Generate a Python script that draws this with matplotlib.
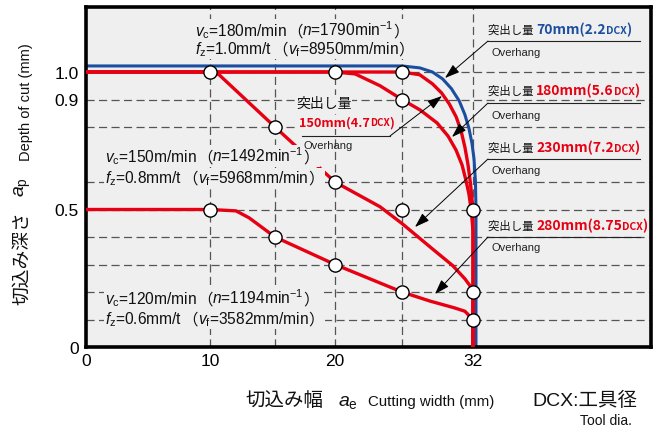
import numpy as np
import matplotlib
matplotlib.use('Agg')
import matplotlib.pyplot as plt
from matplotlib.offsetbox import TextArea, HPacker, AnnotationBbox
from matplotlib.lines import Line2D

plt.rcParams['font.family'] = ['Liberation Sans', 'Noto Sans CJK JP']
plt.rcParams['mathtext.fontset'] = 'custom'
plt.rcParams['mathtext.rm'] = 'Liberation Sans'
plt.rcParams['mathtext.it'] = 'Liberation Sans:italic'
plt.rcParams['mathtext.bf'] = 'Liberation Sans:bold'

# ---------------- data ----------------
x_ticks = [0, 10, 20, 32]
x_tick_labels = ['0', '10', '20', '32']
y_ticks = [0, 0.5, 0.9, 1.0]
y_tick_labels = ['0', '0.5', '0.9', '1.0']
x_grid = [10, 15, 20, 25, 32]
y_grid = [0.1, 0.2, 0.3, 0.4, 0.5, 0.6, 0.8, 0.9, 1.0]

# overhang 70 mm (blue)
oh70_x = [0, 25, 26.75, 28.0, 29.0, 29.86, 30.64, 31.2, 31.6, 31.9, 32.1, 32.25, 32.3, 32.3]
oh70_y = [1.022, 1.022, 1.015, 1.0, 0.975, 0.94, 0.895, 0.845, 0.795, 0.74, 0.685, 0.6, 0.5, 0]
# overhang 150 mm
oh150_x = [0, 25, 26.75, 28.0, 28.9, 29.66, 30.35, 30.83, 31.2, 31.5, 31.75, 31.95, 32, 32]
oh150_y = [1.0, 1.0, 0.99, 0.957, 0.924, 0.884, 0.836, 0.785, 0.727, 0.665, 0.595, 0.52, 0.45, 0]
# overhang 180 mm
oh180_x = [0, 20, 21.5, 23.36, 25, 26.78, 28.45, 29.54, 30.33, 30.92, 31.3, 31.6, 31.85, 32, 32]
oh180_y = [1.0, 1.0, 0.993, 0.95, 0.9, 0.862, 0.815, 0.767, 0.716, 0.662, 0.607, 0.556, 0.49, 0.42, 0]
# overhang 230 mm
oh230_x = [0, 10, 10.7, 15, 20, 23.36, 25, 27.96, 30.0, 31.2, 31.7, 32, 32]
oh230_y = [1.0, 1.0, 0.99, 0.8, 0.6, 0.51, 0.449, 0.358, 0.296, 0.248, 0.223, 0.2, 0]
# overhang 280 mm
oh280_x = [0, 10, 12.0, 13.0, 14.0, 15, 20, 25, 27.76, 30.2, 31.2, 32, 32]
oh280_y = [0.5, 0.5, 0.495, 0.47, 0.435, 0.4, 0.3, 0.2, 0.167, 0.142, 0.13, 0.1, 0]

# measured points (circles)
pt_x = [10, 20, 25, 25, 15, 20, 10, 25, 32, 15, 20, 25, 32, 32]
pt_y = [1.0, 1.0, 1.0, 0.9, 0.8, 0.6, 0.5, 0.5, 0.5, 0.4, 0.3, 0.2, 0.2, 0.1]

# cutting conditions
vc_vals = ['180', '150', '120']
n_vals = ['1790', '1492', '1194']
fz_vals = ['1.0', '0.8', '0.6']
vf_vals = ['8950', '5968', '3582']

# overhang labels
oh_lengths = ['70', '180', '230', '280', '150']
oh_ratios = ['2.2', '5.6', '7.2', '8.75', '4.7']

# schematic (non-uniform) x axis breakpoints: value -> relative position
scale_vals = [0, 10, 15, 20, 25, 32, 50]
scale_pos = [0, 124, 189, 249, 316, 387, 565]

RED = '#E60012'
BLUE = '#1B4EA0'
BG = '#EFEFEF'
INK = '#111111'

W, H = 656, 427
fig = plt.figure(figsize=(W / 100, H / 100), dpi=100)
ax = fig.add_axes([86 / W, (H - 348) / H, (651 - 86) / W, (348 - 8) / H])
ax.set_facecolor(BG)

fwd = lambda v: np.interp(v, scale_vals, scale_pos)
inv = lambda p: np.interp(p, scale_pos, scale_vals)
ax.set_xscale('function', functions=(fwd, inv))
ax.set_xlim(0, 50)
ax.set_ylim(0, 340 / 275)

for gx in x_grid:
    ax.axvline(gx, color='#555555', lw=0.9, ls=(0, (6.5, 3.5)), zorder=1)
for gy in y_grid:
    ax.axhline(gy, color='#555555', lw=0.9, ls=(0, (6.5, 3.5)), zorder=1)

ax.plot(oh70_x, oh70_y, color=BLUE, lw=2.2, zorder=2.5, solid_joinstyle='round')
for cx, cy in [(oh150_x, oh150_y), (oh180_x, oh180_y), (oh230_x, oh230_y), (oh280_x, oh280_y)]:
    ax.plot(cx, cy, color=RED, lw=2.4, zorder=3, solid_joinstyle='round')
ax.plot(pt_x, pt_y, ls='none', marker='o', ms=9.5, mfc='white', mec='black', mew=1.0, zorder=5)

ax.set_xticks(x_ticks)
ax.set_xticklabels(x_tick_labels, fontsize=12.5)
ax.set_yticks(y_ticks)
ax.set_yticklabels(y_tick_labels, fontsize=12.5)
ax.tick_params(axis='both', length=0)
ax.tick_params(axis='x', pad=4)
ax.tick_params(axis='y', pad=5)
ax.xaxis.set_minor_locator(matplotlib.ticker.NullLocator())
for s in ax.spines.values():
    s.set_linewidth(2.6)
    s.set_color('black')

CJK = ['Noto Sans CJK JP']


def fpx(px, py):
    return (px, H - py)


def packed(children, px, py, zorder=6, bg=True):
    box = HPacker(children=children, align='baseline', pad=0, sep=0)
    ab = AnnotationBbox(box, (px, H - py), xycoords='figure pixels', box_alignment=(0, 0.5),
                        frameon=bg, pad=0.05, bboxprops=dict(fc=BG, ec='none'), zorder=zorder)
    fig.add_artist(ab)


def latin(t, size, **kw):
    return TextArea(t, textprops=dict(fontsize=size, color=INK, **kw))


def cjk(t, size, **kw):
    kw.setdefault('color', INK)
    return TextArea(t, textprops=dict(fontsize=size, family=CJK, **kw))


# cutting condition texts
cond_pos = [(195, 31, 50), (105, 157, 179), (105, 299, 320)]
CS = 11.2
for (px, py1, py2), vc, n, fz, vf in zip(cond_pos, vc_vals, n_vals, fz_vals, vf_vals):
    packed([latin(r'$v_{\mathrm{c}}$=' + vc + 'm/min', CS), cjk('（', CS),
            latin(r'$n$=' + n + r'min$^{\mathrm{-1}}$', CS), cjk('）', CS)], px, py1)
    packed([latin(r'$f_{\mathrm{z}}$=' + fz + 'mm/t', CS), cjk('（', CS),
            latin(r'$v_{\mathrm{f}}$=' + vf + 'mm/min', CS), cjk('）', CS)], px, py2)


def overhang_label(px, py, length, ratio, color, kana=8.2, big=10, small=7.5, space=True):
    kids = [cjk('突出し量 ' if space else '突出し量', kana)] if kana else []
    kids += [cjk(length + 'mm(' + ratio, big, weight='bold', color=color),
             cjk('DCX', small, weight='bold', color=color),
             cjk(')', big, weight='bold', color=color)]
    packed(kids, px, py)


def underline(x0, x1, py):
    fig.add_artist(Line2D([x0 / W, x1 / W], [1 - py / H, 1 - py / H], transform=fig.transFigure,
                          color='#222222', lw=0.8, zorder=7))


def leader(sx, sy, tx, ty):
    ax.annotate('', xy=fpx(tx, ty), xycoords='figure pixels', xytext=fpx(sx, sy),
                textcoords='figure pixels',
                arrowprops=dict(arrowstyle='-|>,head_length=0.9,head_width=0.3', color='black',
                                lw=0.7, shrinkA=0, shrinkB=0), zorder=7)


def overhang_word(px, py):
    fig.text(px / W, 1 - py / H, 'Overhang', fontsize=8, color='#222222', ha='left', va='center', zorder=6)


# right-hand labels: (label y, underline y, overhang y, arrow tip)
right_labels = [
    (30, 42, 53, (445, 79), BLUE),
    (91, 104, 116, (452, 138), RED),
    (148, 160, 171, (415, 228), RED),
    (226, 238, 248, (435, 295), RED),
]
for (ly, uy, oy, tip, col), L, R in zip(right_labels, oh_lengths[:4], oh_ratios[:4]):
    overhang_label(488, ly, L, R, col)
    underline(488, 640, uy)
    overhang_word(491, oy)
    leader(488, uy, tip[0], tip[1])

# 150 mm label (inside plot)
packed([cjk('突出し量', 10)], 296, 104)
overhang_label(299, 123, oh_lengths[4], oh_ratios[4], RED, kana=None, big=9.2, small=7.2)
underline(302, 390, 137)
overhang_word(303, 146)
leader(390, 137, 442, 97)

# axis labels
fig.text(22 / W, 1 - 258 / H, '切込み深さ', rotation=90, fontsize=13.5, family=CJK,
         ha='center', va='center', color=INK)
fig.text(23 / W, 1 - 187 / H, r'$a_{\mathrm{p}}$', rotation=90, fontsize=14,
         ha='center', va='center', color=INK)
fig.text(26 / W, 1 - 102 / H, 'Depth of cut (mm)', rotation=90, fontsize=10.5,
         ha='center', va='center', color=INK)

fig.text(245 / W, 1 - 406 / H, '切込み幅', fontsize=14, family=CJK, ha='left', va='baseline', color=INK)
fig.text(338 / W, 1 - 406 / H, r'$a_{\mathrm{e}}$', fontsize=14, ha='left', va='baseline', color=INK)
fig.text(368 / W, 1 - 406 / H, 'Cutting width (mm)', fontsize=10.8, ha='left', va='baseline', color=INK)
fig.text(532 / W, 1 - 406 / H, 'DCX:工具径', fontsize=14, ha='left', va='baseline', color=INK)
fig.text(580 / W, 1 - 425 / H, 'Tool dia.', fontsize=10, ha='left', va='baseline', color=INK)

fig.savefig('out.png', dpi=100)
